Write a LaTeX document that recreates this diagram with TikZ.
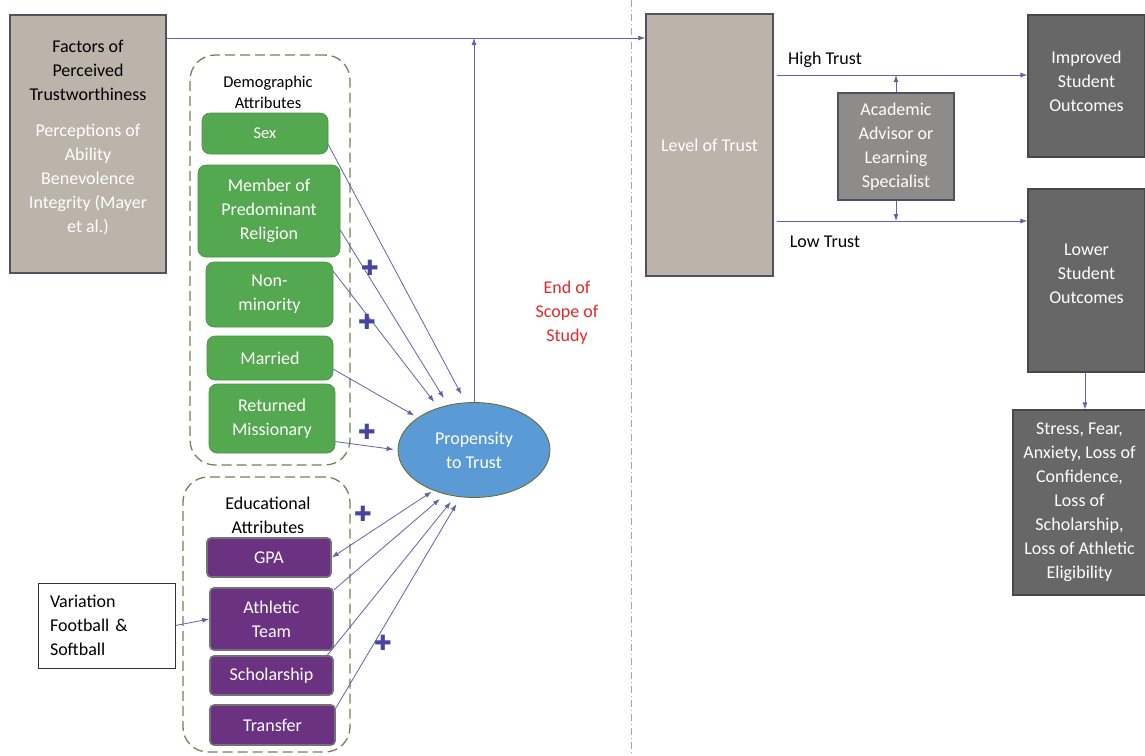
\documentclass[tikz,border=0pt]{standalone}
\usepackage{fontspec}
\setmainfont{Carlito}
\newfontfamily\symfont{DejaVu Sans}
\usetikzlibrary{shapes.geometric,arrows.meta,calc}
\definecolor{tanc}{RGB}{188,179,170}
\definecolor{edgec}{RGB}{80,82,100}
\definecolor{darkc}{RGB}{103,103,103}
\definecolor{advc}{RGB}{142,140,138}
\definecolor{greenc}{RGB}{84,168,80}
\definecolor{purplec}{RGB}{108,50,130}
\definecolor{bluec}{RGB}{91,155,213}
\definecolor{arrowc}{RGB}{95,100,170}
\definecolor{redc}{RGB}{230,40,40}
\definecolor{dashc}{RGB}{125,125,90}
\definecolor{plusc}{RGB}{70,70,160}
\tikzset{
  arr/.style={draw=arrowc, line width=0.8pt, -{Latex[length=7pt,width=5pt]}},
  txt/.style={font=\fontsize{18}{24}\selectfont, align=center, inner sep=0pt},
  smalltxt/.style={font=\fontsize{16.5}{21}\selectfont, align=center, inner sep=0pt},
  tanbox/.style={draw=edgec, line width=1.5pt, fill=tanc, txt},
  darkbox/.style={draw=darkc!70!black, line width=1.2pt, fill=darkc, txt, text=white},
  greenbox/.style={draw=greenc!85!black, line width=0.6pt, fill=greenc, rounded corners=8pt, txt, text=white},
  purplebox/.style={draw=black!55, line width=1.6pt, fill=purplec, rounded corners=4pt, txt, text=white},
  groupbox/.style={draw=dashc, line width=1.3pt, dash pattern=on 10pt off 5pt, rounded corners=25pt},
  plusmark/.style={text=plusc, font=\symfont\fontsize{21}{21}\selectfont, inner sep=0pt},
  vline/.style={draw=black!35, line width=0.6pt, dash pattern=on 7pt off 3pt on 1pt off 3pt},
}
\begin{document}
\begin{tikzpicture}[x=1pt,y=-1pt]
\useasboundingbox[fill=white] (0,0) rectangle (1145,755);
\draw[vline] (631,0) -- (631,755);
\coordinate (topy) at (0,38);
\coordinate (hty) at (0,75);
\coordinate (lty) at (0,221);

% left factors box
\node[tanbox, minimum width=156pt, minimum height=258pt] (factors) at (88,144) {};
\node[txt] (factorstext) at (88,138) {Factors of\\Perceived\\Trustworthiness\\[12pt]
  \textcolor{white}{Perceptions of}\\\textcolor{white}{Ability}\\\textcolor{white}{Benevolence}\\\textcolor{white}{Integrity (Mayer}\\\textcolor{white}{et al.)}};

% demographic group
\node[groupbox, minimum width=160pt, minimum height=410pt] (demog) at (270,260) {};
\node[smalltxt] (demogtitle) at (268,92) {Demographic\\Attributes};
\node[greenbox, minimum width=126pt, minimum height=41pt, font=\fontsize{16.5}{21}\selectfont] (sex) at (265,133.5) {Sex};
\node[greenbox, minimum width=142pt, minimum height=92pt] (member) at (269,211) {Member of\\Predominant\\Religion};
\node[greenbox, minimum width=127pt, minimum height=65pt] (nonmin) at (269.5,294.5) {Non-\\minority};
\node[greenbox, minimum width=126pt, minimum height=44pt] (married) at (270,358) {Married};
\node[greenbox, minimum width=126pt, minimum height=69pt] (returned) at (272,418.5) {Returned\\Missionary};

% educational group
\node[groupbox, minimum width=167pt, minimum height=275pt] (educ) at (266.5,614.5) {};
\node[txt] (eductitle) at (268,515) {Educational\\Attributes};
\node[purplebox, minimum width=124pt, minimum height=39pt] (gpa) at (269,557.5) {GPA};
\node[purplebox, minimum width=123pt, minimum height=62pt] (athletic) at (271.5,619) {Athletic\\Team};
\node[purplebox, minimum width=123pt, minimum height=39pt] (scholar) at (271.5,675.5) {Scholarship};
\node[purplebox, minimum width=125pt, minimum height=40pt] (transfer) at (272.5,725) {Transfer};

% variation
\node[draw=black!80, line width=1pt, fill=white, minimum width=137pt, minimum height=85pt,
  text width=113pt, align=left, inner sep=0pt, font=\fontsize{18}{24}\selectfont] (variation) at (106.5,625.5) {Variation\\Football \&\\Softball};

% propensity
\node[ellipse, draw=olive!70!black, line width=0.8pt, fill=bluec, minimum width=152pt, minimum height=95pt,
  txt, text=white] (prop) at (474,450) {Propensity\\to Trust};

% end of scope
\node[txt, text=redc] (scope) at (567,313) {End of\\Scope of\\Study};

% right side
\node[tanbox, minimum width=127pt, minimum height=262pt, text=white] (level) at (709.5,145) {Level of Trust};
\node[draw=edgec, line width=1.5pt, fill=advc, minimum width=116pt, minimum height=107pt, txt, text=white] (advisor) at (896,146.5) {Academic\\Advisor or\\Learning\\Specialist};
\node[darkbox, minimum width=117pt, minimum height=142pt] (improved) at (1086.5,86) {};
\node[txt, text=white] (improvedtext) at (1086.5,81) {Improved\\Student\\Outcomes};
\node[darkbox, minimum width=117pt, minimum height=183pt] (lower) at (1086.5,280.5) {};
\node[txt, text=white] (lowertext) at (1086.5,274) {Lower\\Student\\Outcomes};
\node[darkbox, minimum width=133pt, minimum height=185pt] (stress) at (1079.5,502.5) {Stress, Fear,\\Anxiety, Loss of\\Confidence,\\Loss of\\Scholarship,\\Loss of Athletic\\Eligibility};
\node[txt] (hightrust) at (825,60) {High Trust};
\node[txt] (lowtrust) at (825,242) {Low Trust};

% connectors
\draw[arr] (factors.east |- topy) -- (level.west |- topy);
\draw[arr] (prop.north) -- (prop.north |- topy);
\draw[arr, shorten <=3pt] (level.east |- hty) -- (improved.west |- hty);
\draw[arr, shorten <=3pt] (level.east |- lty) -- (lower.west |- lty);
\draw[arr] (advisor.north) -- (advisor.north |- hty);
\draw[arr] (advisor.south) -- (advisor.south |- lty);
\draw[arr] (lower.south -| 1085,0) -- (stress.north -| 1085,0);
\draw[arr] (variation.east) -- (athletic.west);

\draw[arr, shorten >=9pt] (sex.-10) -- (prop.100);
\draw[arr, shorten >=8pt] (member.-15) -- (prop.120);
\draw[arr, shorten >=7pt] (nonmin.20) -- (prop.130);
\draw[arr, shorten >=4pt] (married.-10) -- (prop.150);
\draw[arr, shorten >=4pt] (returned.-20) -- (prop.180);
\draw[draw=arrowc, line width=0.8pt, {Latex[length=7pt,width=5pt]}-{Latex[length=7pt,width=5pt]}, shorten >=2pt] (gpa.east) -- (prop.225);
\draw[arr, shorten >=7pt] (athletic.25) -- (prop.237);
\draw[arr, shorten >=7pt] (scholar.20) -- (prop.248);
\draw[arr, shorten >=8pt] (transfer.15) -- (prop.254);

% plus marks
\node[plusmark] (p1) at (370,268) {✚};
\node[plusmark] (p2) at (367,322) {✚};
\node[plusmark] (p3) at (367,432) {✚};
\node[plusmark] (p4) at (363,514) {✚};
\node[plusmark] (p5) at (383,643) {✚};
\end{tikzpicture}
\end{document}
